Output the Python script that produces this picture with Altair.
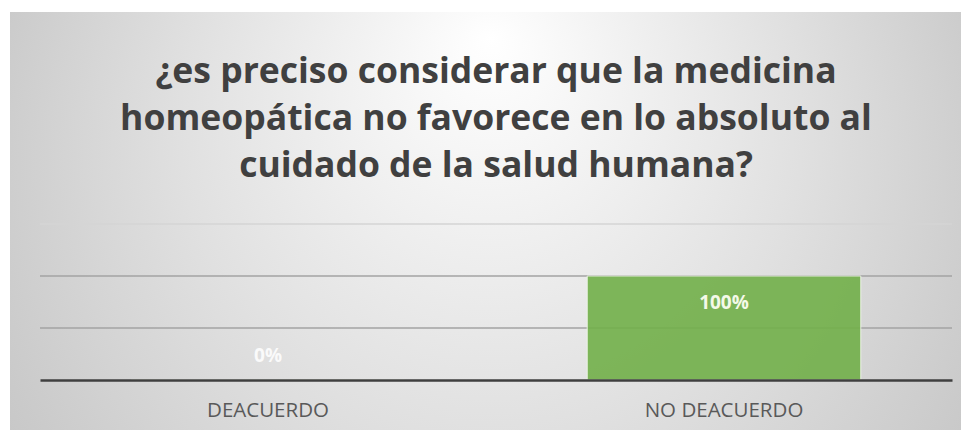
import altair as alt
import pandas as pd

# ---- data ----
categories = ["DEACUERDO", "NO DEACUERDO"]
values = [0.0, 1.0]
title_lines = [
    "¿es preciso considerar que la medicina",
    "homeopática no favorece en lo absoluto al",
    "cuidado de la salud humana?",
]
grid_values = [0.5, 1.0]
faint_grid_values = [1.5]

df = pd.DataFrame({"cat": categories, "val": values})
grid_df = pd.DataFrame({"g": grid_values})
faint_df = pd.DataFrame({"g": faint_grid_values})
bg_df = pd.DataFrame({"k": [0]})

W, H = 912, 156
FONT = "Open Sans"

gradient = {
    "gradient": "radial",
    "x1": 0.5, "y1": 0.3, "r1": 0,
    "x2": 0.5, "y2": 0.5, "r2": 0.72,
    "stops": [
        {"offset": 0.0, "color": "#ffffff"},
        {"offset": 0.45, "color": "#e0e0e0"},
        {"offset": 0.75, "color": "#cacaca"},
        {"offset": 1.0, "color": "#bababa"},
    ],
}

y_scale = alt.Scale(domain=[0, 1.5], nice=False)

bg = alt.Chart(bg_df).mark_rect(fill=gradient).encode(
    x=alt.value(-30), x2=alt.value(W + 20),
    y=alt.value(-212), y2=alt.value(H + 70),
)

grid = alt.Chart(grid_df).mark_rule(color="#a3a3a3", strokeWidth=1.5).encode(
    y=alt.Y("g:Q", scale=y_scale, axis=None)
)
faint = alt.Chart(faint_df).mark_rule(color="#d4d4d4", strokeWidth=1.5).encode(
    y=alt.Y("g:Q", scale=y_scale, axis=None)
)

x_enc = alt.X(
    "cat:N",
    sort=categories,
    scale=alt.Scale(paddingInner=0.4, paddingOuter=0.2),
    axis=alt.Axis(
        title=None, labelAngle=0, labelFont=FONT, labelFontSize=20.5,
        labelColor="#595959", ticks=False, tickSize=0, labelPadding=20,
        domainColor="#3f3f3f", domainWidth=2.5, grid=False, zindex=1,
    ),
)
y_enc = alt.Y("val:Q", scale=y_scale, axis=None)

bars = alt.Chart(df).mark_bar(color="#72b04a", opacity=0.9, stroke="#eef5e6", strokeWidth=1).encode(
    x=x_enc, y=y_enc
)

lab_hi = alt.Chart(df).transform_filter("datum.val > 0").mark_text(
    font=FONT, fontSize=19, fontWeight="bold", color="#f4f9e8",
    baseline="middle", dy=27,
).encode(x=alt.X("cat:N", sort=categories), y="val:Q", text=alt.Text("val:Q", format=".0%"))

lab_lo = alt.Chart(df).transform_filter("datum.val <= 0").mark_text(
    font=FONT, fontSize=19, fontWeight="bold", color="#ffffff", opacity=0.85,
    baseline="middle", dy=-24,
).encode(x=alt.X("cat:N", sort=categories), y="val:Q", text=alt.Text("val:Q", format=".0%"))

chart = alt.layer(bg, faint, grid, bars, lab_hi, lab_lo).properties(
    width=W, height=H,
    autosize=alt.AutoSizeParams(type="none"),
    padding={"left": 32, "top": 216, "right": 9, "bottom": 50},
    background="#ffffff",
    title=alt.TitleParams(
        text=title_lines, font=FONT, fontSize=35.5, fontWeight="bold",
        color="#404040", lineHeight=47, anchor="middle", offset=-172,
    ),
).configure_view(stroke=None)

chart.save("out.html", embed_options={"renderer": "svg", "actions": False})
